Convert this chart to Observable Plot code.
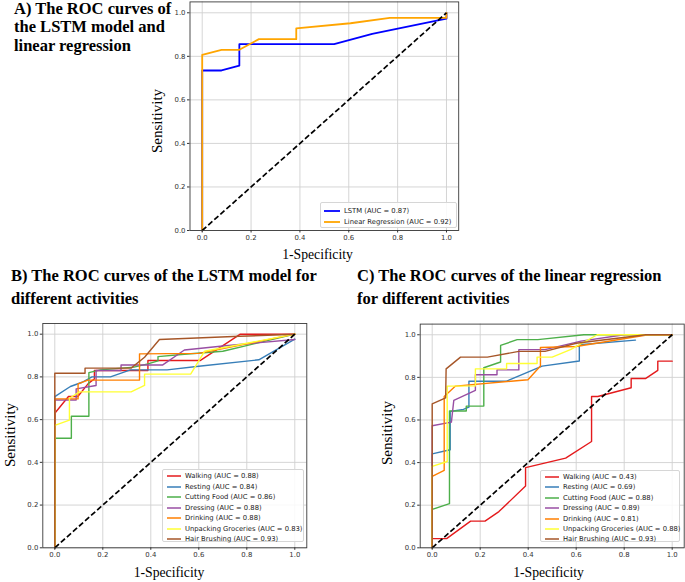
<!DOCTYPE html>
<html><head><meta charset="utf-8">
<script src="https://cdn.jsdelivr.net/npm/d3@7"></script>
<script src="https://cdn.jsdelivr.net/npm/@observablehq/plot@0.6"></script>
<style>
body{margin:0;background:#fff;}
#fig{position:relative;width:685px;height:582px;overflow:hidden;font-family:"Liberation Serif","Times New Roman",serif;background:#fff;}
.title{position:absolute;font-weight:bold;font-size:16.5px;line-height:1;white-space:nowrap;color:#000;}
.axlab{position:absolute;font-size:13.7px;white-space:nowrap;transform:translate(-50%,-50%);color:#000;line-height:1;}
.ylab{font-size:15px;transform:translate(-50%,-50%) rotate(-90deg);}
.panel{position:absolute;}
.legend{position:absolute;border:1px solid #d6d6d6;border-radius:2px;background:rgba(255,255,255,0.85);font-family:"DejaVu Sans",sans-serif;font-size:6.8px;color:#222;box-sizing:border-box;}
.legend .row{position:absolute;height:10px;display:flex;align-items:center;white-space:nowrap;}
.legend svg{display:block;}
</style>
</head><body>
<div id="fig"></div>
<script>
// ---------- DATA ----------
const ticks = [0, 0.2, 0.4, 0.6, 0.8, 1.0];
const diagonal = [[0, 0], [1, 1]];

// Panel A
const panelANames = ["LSTM", "Linear Regression"];
const panelAAUC = [0.87, 0.92];
const lstmCurve = [[0,0],[0,0.735],[0.079,0.735],[0.152,0.757],[0.152,0.856],[0.54,0.856],[0.696,0.903],[1,0.973],[1,1]];
const lrCurve = [[0,0],[0,0.807],[0.079,0.83],[0.152,0.83],[0.232,0.879],[0.385,0.879],[0.385,0.928],[0.607,0.952],[0.768,0.977],[1,0.977],[1,1]];

// Panels B and C
const activities = ["Walking", "Resting", "Cutting Food", "Dressing", "Drinking", "Unpacking Groceries", "Hair Brushing"];
const lstmAUC = [0.88, 0.84, 0.86, 0.88, 0.88, 0.83, 0.93];
const lrAUC = [0.43, 0.69, 0.88, 0.89, 0.81, 0.88, 0.93];

const lstmWalking = [[0,0],[0,0.63],[0.057,0.708],[0.096,0.708],[0.14,0.77],[0.165,0.79],[0.165,0.83],[0.388,0.83],[0.388,0.877],[0.607,0.877],[0.773,1],[1,1]];
const lstmResting = [[0,0],[0,0.708],[0.065,0.755],[0.114,0.775],[0.155,0.8],[0.232,0.8],[0.315,0.833],[0.468,0.833],[0.6,0.85],[0.85,0.88],[1,0.977]];
const lstmCutting = [[0,0],[0,0.513],[0.069,0.513],[0.069,0.616],[0.142,0.616],[0.142,0.82],[0.19,0.833],[0.33,0.846],[0.388,0.861],[0.43,0.875],[0.43,0.895],[0.54,0.906],[0.7,0.92],[1,1]];
const lstmDressing = [[0,0],[0,0.692],[0.089,0.692],[0.089,0.744],[0.172,0.76],[0.172,0.83],[0.276,0.83],[0.276,0.856],[0.45,0.856],[0.54,0.926],[0.7,0.945],[1,0.975]];
const lstmDrinking = [[0,0],[0,0.697],[0.097,0.697],[0.097,0.767],[0.138,0.785],[0.353,0.785],[0.353,0.908],[0.6,0.91],[1,1]];
const lstmUnpacking = [[0,0],[0,0.573],[0.061,0.598],[0.061,0.7],[0.103,0.73],[0.318,0.73],[0.374,0.76],[0.374,0.813],[0.566,0.813],[0.624,0.92],[1,1]];
const lstmHair = [[0,0],[0,0.817],[0.126,0.817],[0.126,0.841],[0.318,0.841],[0.374,0.892],[0.436,0.975],[0.77,0.99],[1,1]];

const lrWalking = [[0,0],[0,0.043],[0.06,0.043],[0.16,0.125],[0.22,0.125],[0.278,0.17],[0.389,0.29],[0.389,0.376],[0.556,0.421],[0.664,0.499],[0.664,0.71],[0.69,0.71],[0.829,0.751],[0.829,0.795],[0.89,0.795],[0.94,0.833],[0.94,0.876],[1,0.876]];
const lrResting = [[0,0],[0,0.441],[0.075,0.46],[0.075,0.64],[0.13,0.65],[0.153,0.66],[0.153,0.782],[0.31,0.782],[0.458,0.853],[0.613,0.877],[0.613,0.953],[0.847,0.975]];
const lrCutting = [[0,0],[0,0.18],[0.072,0.207],[0.072,0.642],[0.142,0.642],[0.142,0.665],[0.215,0.665],[0.215,0.845],[0.285,0.872],[0.285,0.95],[0.354,0.977],[0.44,0.977],[0.632,1],[1,1]];
const lrDressing = [[0,0],[0,0.573],[0.08,0.59],[0.09,0.692],[0.18,0.739],[0.18,0.812],[0.27,0.812],[0.27,0.835],[0.361,0.835],[0.361,0.93],[0.47,0.93],[0.62,0.97],[0.8,1],[1,1]];
const lrDrinking = [[0,0],[0,0.335],[0.05,0.363],[0.05,0.71],[0.097,0.759],[0.399,0.789],[0.451,0.853],[0.451,0.94],[0.6,0.945],[0.9,1],[1,1]];
const lrUnpacking = [[0,0],[0,0.382],[0.0625,0.405],[0.0625,0.759],[0.18,0.76],[0.18,0.84],[0.31,0.84],[0.31,0.865],[0.437,0.865],[0.437,0.895],[0.5,0.895],[0.576,0.93],[0.688,1],[1,1]];
const lrHair = [[0,0],[0,0.676],[0.056,0.704],[0.058,0.84],[0.118,0.895],[0.23,0.895],[0.361,0.922],[0.47,0.922],[0.6,0.96],[0.89,1],[1,1]];

// ---------- STYLES ----------
const panelAColors = ["#0000ff", "#ffa500"];
const activityColors = ["#e41a1c", "#377eb8", "#4daf4a", "#984ea3", "#ff7f00", "#ffff33", "#a65628"];

const fig = document.getElementById("fig");

function toRows(curves, names) {
  return curves.flatMap((pts, i) => pts.map(([x, y]) => ({x, y, s: names[i]})));
}

function makePanel(o) {
  const rows = toRows(o.curves, o.names);
  const chart = Plot.plot({
    width: o.width, height: o.height,
    marginLeft: o.ml, marginRight: o.mr, marginTop: o.mt, marginBottom: o.mb,
    x: {domain: [-0.05, 1.05], label: null},
    y: {domain: [0, 1.05], label: null},
    color: {domain: o.names, range: o.colors},
    style: {fontFamily: "DejaVu Sans, sans-serif", fontSize: "6.9px", color: "#333", background: "transparent", overflow: "visible"},
    marks: [
      Plot.gridX(ticks, {stroke: "#d0d0d0", strokeOpacity: 1, strokeWidth: 0.9}),
      Plot.gridY(ticks, {stroke: "#d0d0d0", strokeOpacity: 1, strokeWidth: 0.9}),
      Plot.line(rows, {x: "x", y: "y", z: "s", stroke: "s", strokeWidth: o.lw}),
      Plot.line(diagonal, {x: d => d[0], y: d => d[1], stroke: "black", strokeWidth: 1.7, strokeDasharray: "5.5,2.6", strokeLinecap: "butt"}),
      Plot.frame({stroke: "#3a3a3a", strokeWidth: 0.9}),
      Plot.axisX(ticks, {tickFormat: d3.format(".1f"), tickSize: 2.5, tickPadding: 2, label: null}),
      Plot.axisY(ticks, {tickFormat: d3.format(".1f"), tickSize: 2.5, tickPadding: 2, label: null})
    ]
  });
  const div = document.createElement("div");
  div.className = "panel";
  div.style.left = o.left + "px";
  div.style.top = o.top + "px";
  div.appendChild(chart);
  fig.appendChild(div);
}

function addText(cls, text, left, top) {
  const d = document.createElement("div");
  d.className = cls;
  d.textContent = text;
  d.style.left = left + "px";
  d.style.top = top + "px";
  fig.appendChild(d);
}

function addLegend(o) {
  const box = document.createElement("div");
  box.className = "legend";
  Object.assign(box.style, {left: o.left + "px", top: o.top + "px", width: o.width + "px", height: o.height + "px"});
  o.labels.forEach((lab, i) => {
    const row = document.createElement("div");
    row.className = "row";
    row.style.left = o.padLeft + "px";
    row.style.top = (o.firstCenter + i * o.spacing - 5) + "px";
    row.innerHTML = `<svg width="${o.swatch}" height="4" style="margin-right:${o.gap}px"><line x1="0" y1="2" x2="${o.swatch}" y2="2" stroke="${o.colors[i]}" stroke-width="${o.lw}"/></svg><span>${lab}</span>`;
    box.appendChild(row);
  });
  fig.appendChild(box);
}

// ---------- PANEL A ----------
makePanel({curves: [lstmCurve, lrCurve], names: panelANames, colors: panelAColors,
  left: 150, top: 0, width: 315, height: 252, ml: 39.5, mr: 6.8, mt: 1.4, mb: 22, lw: 1.8});
addLegend({labels: panelANames.map((n, i) => `${n} (AUC = ${panelAAUC[i].toFixed(2)})`), colors: panelAColors,
  left: 320, top: 202, width: 137, height: 26, padLeft: 3, firstCenter: 8.2, spacing: 10.5, swatch: 16, gap: 4, lw: 1.8});
addText("title", "A) The ROC curves of", 14, 0.7);
addText("title", "the LSTM model and", 14, 19.2);
addText("title", "linear regression", 14, 37.9);
addText("axlab", "1-Specificity", 317.5, 255);
addText("axlab ylab", "Sensitivity", 157, 121);

// ---------- PANEL B ----------
makePanel({curves: [lstmWalking, lstmResting, lstmCutting, lstmDressing, lstmDrinking, lstmUnpacking, lstmHair],
  names: activities, colors: activityColors,
  left: 0, top: 300, width: 315, height: 270, ml: 42.3, mr: 8.7, mt: 23, mb: 22.7, lw: 1.4});
addLegend({labels: activities.map((n, i) => `${n} (AUC = ${lstmAUC[i].toFixed(2)})`), colors: activityColors,
  left: 162, top: 469, width: 142, height: 73, padLeft: 3.5, firstCenter: 6.3, spacing: 10.45, swatch: 14.5, gap: 4, lw: 1.5});
addText("title", "B) The ROC curves of the LSTM model for", 11, 268.2);
addText("title", "different activities", 11, 291.2);
addText("axlab", "1-Specificity", 169, 573);
addText("axlab ylab", "Sensitivity", 10, 435);

// ---------- PANEL C ----------
makePanel({curves: [lrWalking, lrResting, lrCutting, lrDressing, lrDrinking, lrUnpacking, lrHair],
  names: activities, colors: activityColors,
  left: 345, top: 300, width: 340, height: 270, ml: 74.7, mr: 1.3, mt: 23.6, mb: 22.7, lw: 1.4});
addLegend({labels: activities.map((n, i) => `${n} (AUC = ${lrAUC[i].toFixed(2)})`), colors: activityColors,
  left: 540, top: 470, width: 140, height: 72, padLeft: 3.5, firstCenter: 5.7, spacing: 10.45, swatch: 14.5, gap: 4, lw: 1.5});
addText("title", "C) The ROC curves of the linear regression", 357, 268.2);
addText("title", "for different activities", 357, 291.2);
addText("axlab", "1-Specificity", 548.5, 573);
addText("axlab ylab", "Sensitivity", 386.5, 433);
</script>
</body></html>
